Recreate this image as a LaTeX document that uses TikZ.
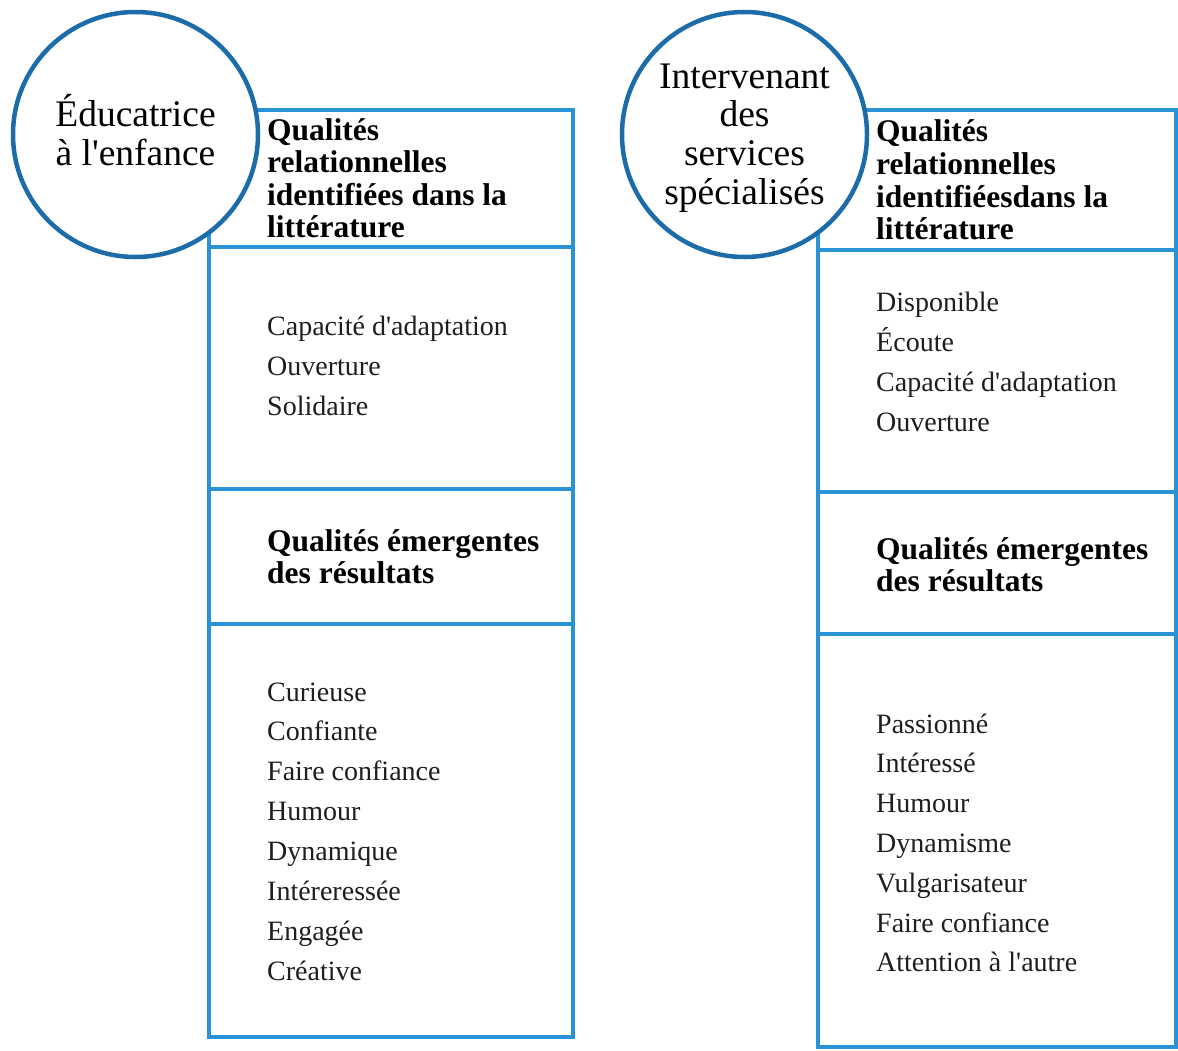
\documentclass[tikz,border=0pt]{standalone}
\usepackage{fontspec}
\setmainfont{Liberation Serif}
\definecolor{circblue}{RGB}{28,108,170}
\definecolor{boxblue}{RGB}{42,146,214}
\definecolor{itemtext}{RGB}{30,30,30}
\begin{document}
\begin{tikzpicture}[x=1pt,y=-1pt,
  sec/.style={draw=boxblue, line width=3.5pt, inner sep=0pt, outer sep=0pt},
  circ/.style={draw=circblue, fill=white, line width=4.5pt, circle, inner sep=0pt, minimum size=245pt},
  circtext/.style={align=center, inner sep=0pt, font=\fontsize{37.5}{38.8}\selectfont},
  hdr/.style={anchor=base west, inner sep=0pt, font=\fontsize{31.5}{32.5}\selectfont\bfseries},
  item/.style={anchor=base west, inner sep=0pt, text=itemtext, font=\fontsize{28}{40}\selectfont}]
\useasboundingbox (0,0) rectangle (1178,1050);
\fill[white] (0,0) rectangle (1178,1050);
% left column sections
\node[sec, minimum width=364pt, minimum height=137pt] (L1) at (391,178.5) {};
\node[sec, minimum width=364pt, minimum height=242pt] (L2) at (391,368) {};
\node[sec, minimum width=364pt, minimum height=135pt] (L3) at (391,556.5) {};
\node[sec, minimum width=364pt, minimum height=413pt] (L4) at (391,830.5) {};
% right column sections
\node[sec, minimum width=358pt, minimum height=140pt] (R1) at (997,180) {};
\node[sec, minimum width=358pt, minimum height=242pt] (R2) at (997,371) {};
\node[sec, minimum width=358pt, minimum height=142pt] (R3) at (997,563) {};
\node[sec, minimum width=358pt, minimum height=413pt] (R4) at (997,840.5) {};
% circles
\node[circ] (LC) at (135.5,134.5) {};
\node[circ] (RC) at (744.5,134.5) {};
\node[circtext] (LCt) at (135.5,130) {Éducatrice\\à l\textquotesingle enfance};
\node[circtext] (RCt) at (744.5,138) {Intervenant\\des\\services\\spécialisés};
% left headers
\node[hdr] (lh1) at (267,140) {Qualités};
\node[hdr] (lh2) at (267,172.5) {relationnelles};
\node[hdr] (lh3) at (267,205) {identifiées dans la};
\node[hdr] (lh4) at (267,237.5) {littérature};
\node[hdr] (le1) at (267,551) {Qualités émergentes};
\node[hdr] (le2) at (267,583) {des résultats};
% right headers
\node[hdr] (rh1) at (876,141) {Qualités};
\node[hdr] (rh2) at (876,174) {relationnelles};
\node[hdr] (rh3) at (876,207) {identifiéesdans la};
\node[hdr] (rh4) at (876,239.5) {littérature};
\node[hdr] (re1) at (876,559) {Qualités émergentes};
\node[hdr] (re2) at (876,591) {des résultats};
% left lists
\foreach \t [count=\i] in {Capacité d\textquotesingle adaptation, Ouverture, Solidaire}
  \node[item] (la\i) at (267,{335+40*(\i-1)}) {\t};
\foreach \t [count=\i] in {Curieuse, Confiante, Faire confiance, Humour, Dynamique, Intéreressée, Engagée, Créative}
  \node[item] (lb\i) at (267,{701+39.9*(\i-1)}) {\t};
% right lists
\foreach \t [count=\i] in {Disponible, Écoute, Capacité d\textquotesingle adaptation, Ouverture}
  \node[item] (ra\i) at (876,{311+40.3*(\i-1)}) {\t};
\foreach \t [count=\i] in {Passionné, Intéressé, Humour, Dynamisme, Vulgarisateur, Faire confiance, Attention à l\textquotesingle autre}
  \node[item] (rb\i) at (876,{733+39.8*(\i-1)}) {\t};
\end{tikzpicture}
\end{document}
